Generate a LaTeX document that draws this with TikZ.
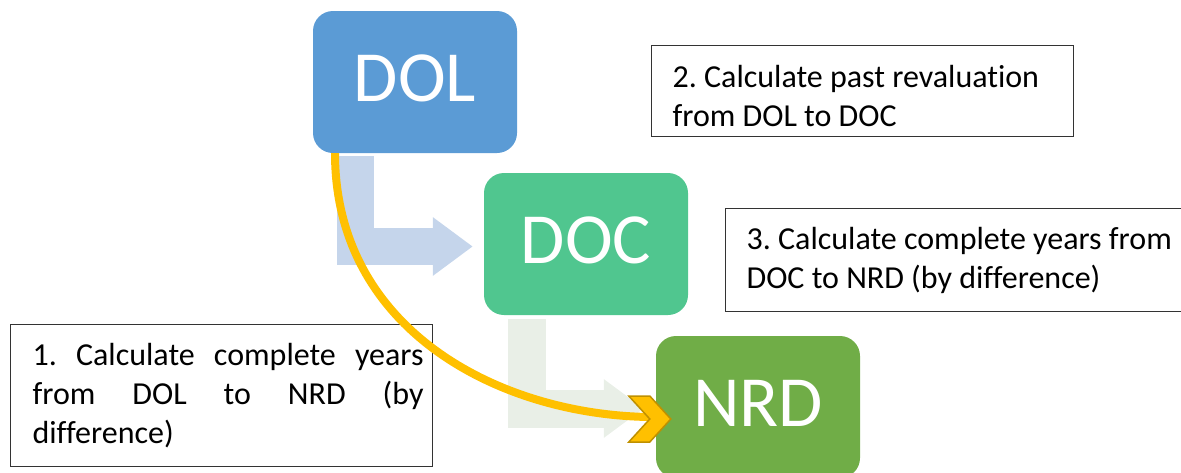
\documentclass[tikz,border=0pt]{standalone}
\usepackage{fontspec}
\setmainfont{Carlito}[Ligatures=NoCommon]
\usepackage{tikz}
\usetikzlibrary{arrows.meta, calc}
\definecolor{dolblue}{RGB}{91,155,213}
\definecolor{docgreen}{RGB}{80,198,143}
\definecolor{nrdgreen}{RGB}{112,173,71}
\definecolor{flowblue}{RGB}{197,213,235}
\definecolor{flowgrey}{RGB}{233,239,231}
\definecolor{curveyellow}{RGB}{255,192,0}
\definecolor{curvegold}{RGB}{191,144,0}

\tikzset{
  datebox/.style={rounded corners=20pt, minimum width=204pt, minimum height=142pt, inner sep=0pt, text=white, text depth=7pt, font=\fontsize{72}{80}\selectfont},
  note/.style={draw=black!80, line width=1.2pt, fill=white, inner sep=0pt, anchor=north west, font=\fontsize{32}{39}\selectfont\frenchspacing},
  bent/.style={line width=37pt, -{Triangle[length=40pt, width=56pt]}},
}

\begin{document}
\begin{tikzpicture}[x=1pt, y=-1pt]
    \useasboundingbox (0,0) rectangle (1181,472);
    \clip (0,0) rectangle (1181,472);

    % Date Boxes
    \node[datebox, fill=dolblue] (DOL) at (415,82) {DOL};
    \node[datebox, fill=docgreen] (DOC) at (586,244) {DOC};
    \node[datebox, fill=nrdgreen] (NRD) at (758,407) {NRD};

    % Bent Arrows
    \draw[bent, flowblue] ($(DOL.south)+(-59.5,3)$) |- ($(DOC.west)+(-11,2.5)$);
    \draw[bent, flowgrey, line width=38pt] ($(DOC.south)+(-59,4)$) |- ($(NRD.west)+(-12,1.5)$);

    % Steps
    \node[note] (stepTwo) at (651,45) {\hspace*{21pt}\parbox[t][91pt][t]{380pt}{\rule{0pt}{42pt}2. Calculate past revaluation\\from DOL to DOC}\hspace*{21pt}};
    \node[note] (stepThree) at (725,208) {\hspace*{21pt}\parbox[t][103pt][t]{430pt}{\rule{0pt}{41pt}3. Calculate complete years from\\DOC to NRD (by difference)}\hspace*{20pt}};
    \node[note] (stepOne) at (10,324) {\hspace*{22pt}\parbox[t][142pt][t]{391pt}{\rule{0pt}{41pt}1. Calculate complete years\linebreak from DOL to NRD (by\linebreak difference)}\hspace*{9pt}};

    % Curved Arrow DOL to NRD
    \coordinate (tip) at ($(NRD.west)+(15,12)$);
    \draw[curveyellow, line width=8pt] ($(DOL.south)+(-80,0)$) .. controls +(0,177) and +(-150,-2) .. ($(tip)+(-21,-2)$);
    \draw[fill=curveyellow, draw=curvegold, line width=1.5pt] (tip) -- ++(-21,-23) -- ++(-21,0) -- ++(21,23) -- ++(-21,23) -- ++(21,0) -- cycle;
\end{tikzpicture}
\end{document}
